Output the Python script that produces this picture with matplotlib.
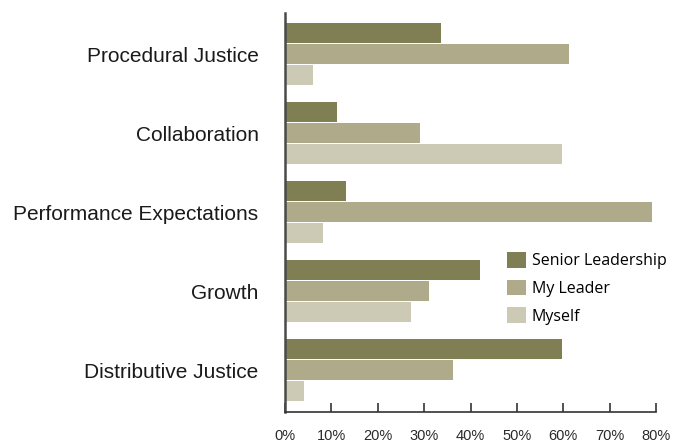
import matplotlib.pyplot as plt
import numpy as np
from matplotlib.patches import Patch

# 数据
categories = ['Procedural Justice', 'Collaboration', 'Performance Expectations', 'Growth', 'Distributive Justice']
senior_leadership = [33.6, 11.2, 13.1, 42.0, 59.7]
my_leader = [61.2, 29.1, 79.1, 31.0, 36.2]
myself = [6.0, 59.7, 8.2, 27.2, 4.1]
series_names = ['Senior Leadership', 'My Leader', 'Myself']
tick_values = [0, 10, 20, 30, 40, 50, 60, 70, 80]
tick_labels = [f'{v}%' for v in tick_values]

colors = ['#807f54', '#aeaa8a', '#cccab4']
bar_h = 20 / 79  # 柱高（单位：组间距）
bar_step = 21 / 79

fig = plt.figure(figsize=(6.73, 4.42), dpi=100)
ax = fig.add_axes([285 / 673, 30 / 442, (656 - 285) / 673, (412 - 13) / 442])

y = np.arange(len(categories))
for i, (vals, c) in enumerate(zip([senior_leadership, my_leader, myself], colors)):
    ax.barh(y + (i - 1) * bar_step, vals, height=bar_h, color=c, linewidth=0)

ax.set_xlim(0, 80)
ax.set_ylim(len(categories) - 1 + 0.53, -0.52)

# 坐标轴样式
for s in ['top', 'right']:
    ax.spines[s].set_visible(False)
ax.spines['left'].set_color('#4a4a4a')
ax.spines['left'].set_linewidth(1.8)
ax.spines['bottom'].set_color('#333333')
ax.spines['bottom'].set_linewidth(1.2)

ax.set_xticks(tick_values)
ax.set_xticklabels(tick_labels, fontsize=10.5, family='Liberation Sans', color='#2a2a2a')
ax.tick_params(axis='x', direction='in', length=6.5, width=1.1, color='#222222', pad=12)

ax.set_yticks(y)
ax.set_yticklabels(categories, fontsize=15, family='Liberation Sans', color='#1a1a1a')
ax.tick_params(axis='y', length=0, pad=19)

handles = [Patch(facecolor=c, edgecolor='none') for c in colors]
fig.legend(handles, series_names, loc='upper left', bbox_to_anchor=(507 / 673, 1 - 252 / 442),
           frameon=False, borderpad=0, borderaxespad=0, handlelength=1.18, handleheight=1.12,
           handletextpad=0.37, labelspacing=0.66,
           prop={'family': 'Open Sans', 'size': 11.5})

plt.savefig('out.png', dpi=100)
